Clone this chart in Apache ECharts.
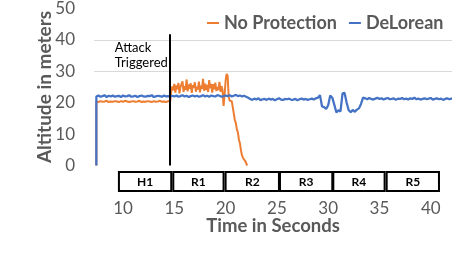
<!DOCTYPE html>
<html>
<head>
<meta charset="utf-8">
<script src="https://cdn.jsdelivr.net/npm/echarts@6/dist/echarts.min.js"></script>
<style>
html,body{margin:0;padding:0;background:#fff;}
#c{width:452px;height:262px;}
</style>
</head>
<body>
<div id="c"></div>
<script>
// ---- data ----
const seriesNames = ['No Protection', 'DeLorean'];
const xTickLabels = [10, 15, 20, 25, 30, 35, 40];
const yTickLabels = [0, 10, 20, 30, 40, 50];
const gridValues = [30, 40];
const attackTime = 14.6;
const attackTop = 41.8;
const attackText = 'Attack\nTriggered';

const segLabels = ['H1', 'R1', 'R2', 'R3', 'R4', 'R5'];
const segStart = [9.6, 14.9, 20.0, 25.3, 30.5, 35.7];
const segEnd   = [14.7, 19.8, 25.2, 30.4, 35.5, 40.8];

// DeLorean (blue): first sample at 7.4 s, then one value every 0.2 s
const blueStartTime = 7.4;
const blueStep = 0.2;
const blueValues = [
  22.0,22.3,21.9,22.1,22.4,21.8,22.2,22.0,22.3,21.9,
  22.1,22.2,21.8,22.3,22.0,22.1,22.4,21.9,22.0,22.2,
  21.8,22.1,22.3,22.0,21.9,22.2,22.1,22.4,21.8,22.0,
  22.2,22.1,21.9,22.3,22.0,22.1,21.9,
  22.2,22.0,22.3,21.9,22.1,22.4,22.0,22.2,21.8,22.1,
  22.3,22.0,22.2,21.9,22.1,22.4,22.0,22.2,21.9,22.3,
  22.1,22.0,22.4,22.2,21.9,22.1,
  22.3,22.1,22.4,22.0,22.2,22.5,22.1,22.3,22.0,22.2,21.9,21.6,
  21.2,20.9,21.3,21.0,21.4,20.8,21.1,21.2,20.9,21.3,
  21.0,21.2,20.8,21.1,21.4,21.0,20.9,21.2,21.1,21.3,
  20.9,21.0,21.2,20.8,21.1,21.3,21.0,21.2,20.9,21.1,
  21.3,21.0,21.4,
  21.6,22.4,18.8,18.6,18.0,19.2,22.3,21.6,19.3,16.9,
  17.6,17.2,23.0,23.1,20.0,17.6,17.0,17.7,17.1,17.8,
  18.2,19.6,21.6,
  21.4,21.1,21.5,21.2,21.0,21.3,21.6,21.2,21.4,21.0,
  21.3,21.5,21.1,21.2,21.4,20.9,21.3,21.2,21.5,21.1,
  21.3,21.0,21.4,21.2,21.6,21.1,21.3,21.0,21.2,21.4,
  21.1,21.3,21.5,21.0,21.2,21.4,21.1,21.3,20.9,21.2,
  21.4,21.1,21.3,21.2
];

// No Protection (orange): before attack every 0.2 s from 7.4 s
const orangePreStart = 7.4;
const orangePreStep = 0.2;
const orangePreValues = [
  20.4,20.2,20.5,20.3,20.4,20.6,20.2,20.4,20.3,20.5,
  20.4,20.2,20.5,20.3,20.6,20.4,20.2,20.4,20.5,20.3,
  20.4,20.6,20.2,20.4,20.3,20.5,20.4,20.2,20.5,20.3,
  20.4,20.6,20.3,20.4,20.2,20.5,20.4
];
// after attack every 0.1 s from 14.7 s
const orangePostStart = 14.7;
const orangePostStep = 0.1;
const orangePostValues = [
  23.5,25.2,24.0,26.0,23.2,25.5,24.3,26.3,23.0,25.0,
  24.6,26.8,23.4,25.3,24.1,27.4,23.6,25.8,24.4,26.2,
  23.1,25.6,24.8,26.5,23.5,25.1,24.2,26.7,23.3,25.4,
  24.5,27.6,23.8,26.1,24.0,25.7,23.4,27.2,24.6,26.0,
  23.2,25.9,24.3,26.4,23.7,25.0,24.1,26.6,23.5,25.3,
  24.0,
  19.0,22.5,27.0,29.2,28.5,22.0,20.6,20.9,20.5,18.5,
  16.5,14.5,13.5,11.5,10.5,8.2,7.0,4.8,3.2,2.4,
  2.8,1.5,0.8,0.0
];

// ---- build ----
const r1 = v => Math.round(v * 100) / 100;
const blueData = [[blueStartTime, 0]].concat(
  blueValues.map((v, i) => [r1(blueStartTime + i * blueStep), v]));
const orangeData = [[orangePreStart, 0]]
  .concat(orangePreValues.map((v, i) => [r1(orangePreStart + i * orangePreStep), v]))
  .concat(orangePostValues.map((v, i) => [r1(orangePostStart + i * orangePostStep), v]));

const FONT = 'Lato';
const GRAY = '#595959';
const chart = echarts.init(document.getElementById('c'), null, {renderer: 'canvas'});

const option = {
  animation: false,
  backgroundColor: '#fff',
  grid: {left: 94, right: 0, top: 7, bottom: 96.5, containLabel: false},
  legend: {
    data: seriesNames,
    left: 207, top: 14, padding: 0, width: 250,
    icon: 'rect', itemWidth: 12, itemHeight: 2, itemGap: 12,
    textStyle: {fontFamily: FONT, fontWeight: 'bold', fontSize: 18, color: GRAY}
  },
  xAxis: {
    type: 'value', min: 7.17, max: 42.07,
    name: 'Time in Seconds', nameLocation: 'middle', nameGap: 51, nameMoveOverlap: false,
    nameTextStyle: {fontFamily: FONT, fontWeight: 'bold', fontSize: 18.5, color: GRAY},
    axisLine: {show: false}, axisTick: {show: false}, splitLine: {show: false},
    axisLabel: {customValues: xTickLabels, margin: 35, fontFamily: FONT, fontSize: 17, color: GRAY}
  },
  yAxis: {
    type: 'value', min: 0, max: 50, interval: 10,
    name: 'Altitude in meters', nameLocation: 'middle', nameGap: 40, nameRotate: 90, nameMoveOverlap: false,
    nameTextStyle: {fontFamily: FONT, fontWeight: 'bold', fontSize: 19, color: GRAY},
    axisLine: {show: false}, axisTick: {show: false}, splitLine: {show: false},
    axisLabel: {margin: 19, fontFamily: FONT, fontSize: 17, color: GRAY}
  },
  series: [
    {
      name: 'grid', type: 'line', data: [], z: 1, silent: true,
      markLine: {
        silent: true, symbol: 'none', label: {show: false},
        lineStyle: {color: '#d9d9d9', width: 1, type: 'solid'},
        data: gridValues.map(v => ({yAxis: v}))
      }
    },
    {
      name: seriesNames[0], type: 'line', data: orangeData, z: 3,
      showSymbol: false, symbol: 'none',
      lineStyle: {color: '#ED7D31', width: 2}, itemStyle: {color: '#ED7D31'}
    },
    {
      name: seriesNames[1], type: 'line', data: blueData, z: 4,
      showSymbol: false, symbol: 'none',
      lineStyle: {color: '#4472C4', width: 2.25}, itemStyle: {color: '#4472C4'}
    },
    {
      name: 'attack', type: 'line', data: [], z: 6, silent: true,
      markLine: {
        silent: true, symbol: 'none', label: {show: false},
        lineStyle: {color: '#000', width: 2, type: 'solid'},
        data: [[{coord: [attackTime, 0]}, {coord: [attackTime, attackTop]}]]
      }
    }
  ]
};
chart.setOption(option);

const px = (t, v) => chart.convertToPixel({gridIndex: 0}, [t, v]);
const boxTop = 172, boxH = 19;
const elements = [];
// white box behind "Attack Triggered"
const a = px(8.55, 41), b = px(15.25, 29.4);
elements.push({type: 'rect', z: 2, silent: true,
  shape: {x: a[0], y: a[1], width: b[0] - a[0], height: b[1] - a[1]},
  style: {fill: '#fff'}});
const tp = px(9.2, 0);
elements.push({type: 'text', z: 3, silent: true, x: tp[0], y: 40,
  style: {text: attackText, font: 'normal 13px ' + FONT, fill: '#000', lineHeight: 15, textVerticalAlign: 'top'}});
segLabels.forEach((lab, i) => {
  const s = px(segStart[i], 0)[0], e = px(segEnd[i], 0)[0];
  elements.push({type: 'rect', z: 3, silent: true,
    shape: {x: s, y: boxTop, width: e - s, height: boxH},
    style: {fill: '#fff', stroke: '#000', lineWidth: 2}});
  elements.push({type: 'text', z: 4, silent: true, x: (s + e) / 2, y: boxTop + boxH / 2 + 1,
    style: {text: lab, font: 'bold 12px ' + FONT, fill: '#000', textAlign: 'center', textVerticalAlign: 'middle'}});
});
chart.setOption({graphic: {elements: elements}});
</script>
</body>
</html>
